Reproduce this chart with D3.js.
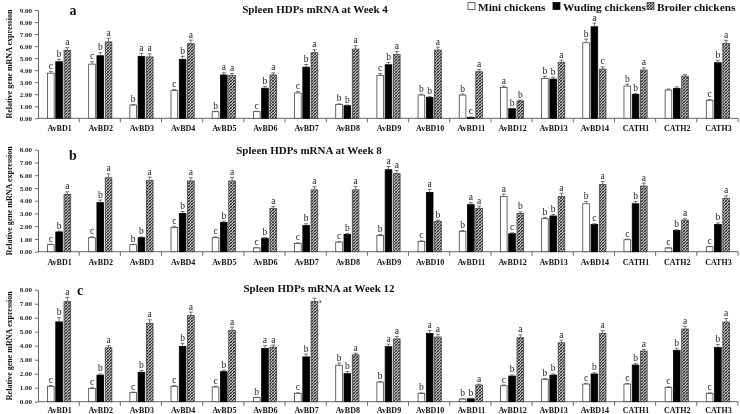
<!DOCTYPE html>
<html><head><meta charset="utf-8">
<script src="https://cdn.jsdelivr.net/npm/d3@7"></script>
<style>
body{margin:0;background:#fff;}
svg{display:block;will-change:transform;}
svg text{font-family:"Liberation Serif","Times New Roman",serif;}
</style></head>
<body><svg id="c" width="740" height="414"></svg>
<script>
const categories = ["AvBD1","AvBD2","AvBD3","AvBD4","AvBD5","AvBD6","AvBD7","AvBD8","AvBD9","AvBD10","AvBD11","AvBD12","AvBD13","AvBD14","CATH1","CATH2","CATH3"];
const seriesNames = ["Mini chickens","Wuding chickens","Broiler chickens"];

// Week 4
const miniW4    = [3.75,4.50,1.10,2.30,0.55,0.55,2.10,1.15,3.57,1.93,1.93,2.57,3.32,6.28,2.68,2.35,1.50];
const wudingW4  = [4.70,5.20,5.15,4.90,3.60,2.50,4.25,1.05,4.45,1.74,0.08,0.80,3.26,7.61,1.99,2.49,4.62];
const broilerW4 = [5.65,6.35,5.10,6.20,3.55,3.60,5.45,5.75,5.30,5.67,3.87,1.44,4.65,4.09,4.01,3.51,6.23];
const miniW4Err    = [0.15,0.20,0.05,0.10,0.03,0.03,0.12,0.05,0.15,0.08,0.08,0.10,0.15,0.30,0.15,0.08,0.06];
const wudingW4Err  = [0.20,0.25,0.25,0.25,0.18,0.15,0.22,0.05,0.20,0.08,0.03,0.04,0.15,0.30,0.08,0.12,0.20];
const broilerW4Err = [0.22,0.30,0.25,0.30,0.18,0.18,0.25,0.28,0.25,0.25,0.18,0.07,0.18,0.18,0.18,0.12,0.25];
const lettersW4 = ["cba","cba","baa","cba","baa","cba","cba","bba","cba","bba","bca","abb","bba","bac","bba","","cba"];

// Week 8
const miniW8    = [0.55,1.10,0.55,1.90,1.10,0.30,0.65,0.75,1.28,0.81,1.60,4.34,2.59,3.76,0.94,0.29,0.39];
const wudingW8  = [1.55,3.85,1.10,3.00,2.30,1.05,2.05,1.35,6.43,4.65,3.69,1.41,2.80,2.14,3.76,1.67,2.14];
const broilerW8 = [4.50,5.80,5.60,5.55,5.55,3.40,4.85,4.85,6.12,2.38,3.40,3.00,4.34,5.28,5.15,2.48,4.18];
const miniW8Err    = [0.03,0.06,0.03,0.10,0.06,0.02,0.04,0.04,0.06,0.04,0.06,0.18,0.08,0.18,0.04,0.02,0.03];
const wudingW8Err  = [0.07,0.20,0.06,0.15,0.10,0.05,0.14,0.07,0.25,0.25,0.15,0.07,0.12,0.05,0.18,0.05,0.12];
const broilerW8Err = [0.20,0.30,0.25,0.25,0.28,0.15,0.25,0.25,0.25,0.10,0.18,0.12,0.25,0.22,0.22,0.10,0.20];
const lettersW8 = ["cba","cba","bba","cba","cba","cba","cba","cba","baa","cab","baa","acb","bba","bca","cba","cba","cba"];

// Week 12
const miniW12    = [1.10,0.95,0.65,1.10,1.05,0.30,0.60,2.60,1.40,0.60,0.19,1.14,1.60,1.26,1.26,1.02,0.60];
const wudingW12  = [5.70,1.90,2.10,3.95,2.15,3.80,3.20,2.00,3.93,4.88,0.21,1.83,1.90,1.98,2.62,3.67,3.88];
const broilerW12 = [7.15,3.85,5.60,6.15,5.10,3.90,7.15,3.35,4.48,4.62,1.19,4.57,4.21,4.88,3.62,5.19,5.69];
const miniW12Err    = [0.05,0.05,0.03,0.05,0.05,0.02,0.03,0.15,0.05,0.03,0.02,0.05,0.06,0.05,0.05,0.04,0.03];
const wudingW12Err  = [0.30,0.08,0.12,0.22,0.10,0.20,0.20,0.15,0.18,0.20,0.03,0.08,0.08,0.08,0.12,0.15,0.20];
const broilerW12Err = [0.30,0.15,0.25,0.25,0.22,0.15,0.25,0.12,0.18,0.20,0.06,0.20,0.18,0.20,0.12,0.20,0.25];
const lettersW12 = ["cba","cba","cba","cba","cba","baa","cba","bba","baa","baa","bba","cba","bba","cba","cba","cba","cba"];

const yTicksW4 = [0,1,2,3,4,5,6,7,8,9];
const yTicks8 = [0,1,2,3,4,5,6,7,8];
const panelLetters = ["a","b","c"];
const panelTitles = ["Spleen HDPs mRNA at Week 4","Spleen HDPs mRNA at Week 8","Spleen HDPs mRNA at Week 12"];
const yTitle = "Relative gene mRNA expression";

const panels = [
  {vals:[miniW4,wudingW4,broilerW4], errs:[miniW4Err,wudingW4Err,broilerW4Err], letters:lettersW4, max:9, ticks:yTicksW4, y0:118.3, y1:10, letterPos:[73,14.5], titleX:315, titleY:12.5, catY:131},
  {vals:[miniW8,wudingW8,broilerW8], errs:[miniW8Err,wudingW8Err,broilerW8Err], letters:lettersW8, max:8, ticks:yTicks8, y0:251.7, y1:149.7, letterPos:[73,160], titleX:309, titleY:154, catY:265},
  {vals:[miniW12,wudingW12,broilerW12], errs:[miniW12Err,wudingW12Err,broilerW12Err], letters:lettersW12, max:8, ticks:yTicks8, y0:401.7, y1:289.7, letterPos:[80,294.5], titleX:319, titleY:292, catY:413}
];

const svg = d3.select("#c");
const defs = svg.append("defs");
const pat = defs.append("pattern").attr("id","hatch").attr("patternUnits","userSpaceOnUse")
  .attr("width",3).attr("height",3);
pat.append("rect").attr("width",3).attr("height",3).attr("fill","#b8b8b8");
pat.append("path").attr("d","M-1,1 l2,-2 M0,3 l3,-3 M2,4 l2,-2").attr("stroke","#1a1a1a").attr("stroke-width",0.9);
pat.append("path").attr("d","M-1,2 l2,2 M0,0 l3,3 M2,-1 l2,2").attr("stroke","#444").attr("stroke-width",0.6);

const fills = ["#fff","#000","url(#hatch)"];
const strokes = ["#444","#000","#444"];
const xLeft = 38, xRight = 738;
const x = d3.scaleBand().domain(categories).range([xLeft, xRight]).padding(0);
const bw = x.bandwidth();
const x1 = d3.scaleBand().domain([0,1,2]).range([bw/2-11.5, bw/2+12.5]).paddingInner(0.1);

panels.forEach((p, pi) => {
  const y = d3.scaleLinear().domain([0,p.max]).range([p.y0,p.y1]);
  const g = svg.append("g");
  const title = g.append("text").attr("x",p.titleX).attr("y",p.titleY).attr("text-anchor","middle")
    .attr("font-size",11).attr("font-weight","bold").attr("fill","#111").text(panelTitles[pi]);
  const tb = title.node().getBBox();
  g.append("text").attr("x",p.letterPos[0]).attr("y",p.letterPos[1]).attr("text-anchor","middle")
    .attr("font-size",14).attr("font-weight","bold").attr("fill","#111").text(panelLetters[pi]);
  // y axis
  const ya = g.append("g").attr("transform",`translate(${xLeft},0)`)
    .call(d3.axisLeft(y).tickValues(p.ticks).tickFormat(d3.format(".2f")).tickSize(3).tickSizeOuter(0));
  ya.attr("font-family",null);
  ya.select(".domain").attr("stroke","#666");
  ya.selectAll(".tick line").attr("stroke","#666");
  ya.selectAll("text").attr("font-size",7).attr("font-weight","bold").attr("fill","#222").attr("x",-6);
  // x axis line + ticks between categories
  g.append("line").attr("x1",xLeft).attr("x2",xRight).attr("y1",p.y0).attr("y2",p.y0).attr("stroke","#666");
  g.selectAll(".xt").data(categories).enter().append("line")
    .attr("x1",d=>x(d)+bw).attr("x2",d=>x(d)+bw).attr("y1",p.y0).attr("y2",p.y0+4).attr("stroke","#666");
  g.selectAll(".cl").data(categories).enter().append("text")
    .attr("x",d=>x(d)+bw/2+1).attr("y",p.catY).attr("text-anchor","middle")
    .attr("font-size",8).attr("font-weight","bold").attr("fill","#111").text(d=>d);
  // bars
  p.vals.forEach((arr, si) => {
    const gs = g.append("g");
    arr.forEach((v, ci) => {
      const cx = x(categories[ci]) + x1(si);
      const w = x1.bandwidth();
      gs.append("rect").attr("x",cx+0.4).attr("y",y(v)).attr("width",w-0.8).attr("height",Math.max(0,p.y0-y(v)))
        .attr("fill",fills[si]).attr("stroke",strokes[si]).attr("stroke-width",0.8);
      const e = p.errs[si][ci];
      const mx = cx + w/2;
      gs.append("line").attr("x1",mx).attr("x2",mx).attr("y1",y(v)).attr("y2",y(v+e)).attr("stroke","#555").attr("stroke-width",0.8);
      gs.append("line").attr("x1",mx-2).attr("x2",mx+2).attr("y1",y(v+e)).attr("y2",y(v+e)).attr("stroke","#555").attr("stroke-width",0.8);
      const L = p.letters[ci];
      if (L) {
        let lx = mx, ly = y(v+e)-2.5, fs = 9.5;
        const top = ly - 7;
        if (lx > tb.x - 3 && lx < tb.x + tb.width + 3 && top < tb.y + tb.height) {
          lx = mx + 5.5; ly = y(v+e) + 5; fs = 7;
        }
        gs.append("text").attr("x",lx).attr("y",ly).attr("text-anchor","middle")
          .attr("font-size",fs).attr("fill","#222").text(L[si]);
      }
    });
  });
  // y title
  g.append("text").attr("transform",`translate(12,${(p.y0+p.y1)/2}) rotate(-90)`).attr("text-anchor","middle")
    .attr("font-size",8).attr("font-weight","bold").attr("fill","#111").text(yTitle);
});

// legend
const leg = svg.append("g");
const legX = [468, 553, 647];
seriesNames.forEach((n, i) => {
  leg.append("rect").attr("x",legX[i]).attr("y",2.5).attr("width",7).attr("height",7)
    .attr("fill",fills[i]).attr("stroke",strokes[i]).attr("stroke-width",0.8);
  leg.append("text").attr("x",legX[i]+10).attr("y",10.5).attr("font-size",11.3).attr("font-weight","bold")
    .attr("fill","#111").text(n);
});
</script></body></html>
